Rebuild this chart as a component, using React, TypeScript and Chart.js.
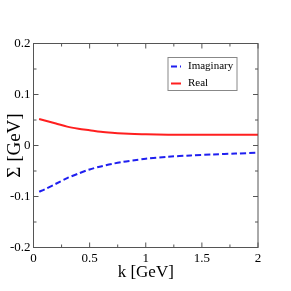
import { useEffect, useRef } from "react";
import { Chart, registerables } from "chart.js";

Chart.register(...registerables);

const kValues = [0.05, 0.1, 0.2, 0.3, 0.4, 0.5, 0.6, 0.7, 0.8, 0.9, 1.0, 1.2, 1.4, 1.6, 1.8, 2.0];
const imagValues = [-0.0905, -0.086, -0.075, -0.064, -0.055, -0.047, -0.041, -0.036, -0.032, -0.029, -0.026, -0.022, -0.0195, -0.0175, -0.0158, -0.014];
const realValues = [0.052, 0.049, 0.043, 0.037, 0.033, 0.03, 0.027, 0.025, 0.0235, 0.0225, 0.022, 0.0213, 0.0212, 0.0212, 0.0213, 0.0213];
const seriesLabels = ["Imaginary", "Real"];
const xTickValues = [0, 0.5, 1, 1.5, 2];
const yTickValues = [-0.2, -0.1, 0, 0.1, 0.2];
const xTitle = "k [GeV]";
const yTitle = "Σ [GeV]";

const SERIF = "'Liberation Serif', 'Times New Roman', serif";

const framePlugin = {
  id: "frame",
  afterDatasetsDraw(chart: any) {
    const { ctx, chartArea, scales } = chart;
    const { left, right, top, bottom } = chartArea;
    ctx.save();
    ctx.strokeStyle = "#555";
    ctx.lineWidth = 1;
    ctx.strokeRect(left, top, right - left, bottom - top);
    const drawX = (v: number, len: number) => {
      const px = scales.x.getPixelForValue(v);
      ctx.beginPath();
      ctx.moveTo(px, bottom);
      ctx.lineTo(px, bottom - len);
      ctx.moveTo(px, top);
      ctx.lineTo(px, top + len);
      ctx.stroke();
    };
    const drawY = (v: number, len: number) => {
      const py = scales.y.getPixelForValue(v);
      ctx.beginPath();
      ctx.moveTo(left, py);
      ctx.lineTo(left + len, py);
      ctx.moveTo(right, py);
      ctx.lineTo(right - len, py);
      ctx.stroke();
    };
    xTickValues.forEach((v, i) => {
      drawX(v, 5);
      if (i < xTickValues.length - 1) drawX((v + xTickValues[i + 1]) / 2, 3);
    });
    yTickValues.forEach((v, i) => {
      drawY(v, 5);
      if (i < yTickValues.length - 1) drawY((v + yTickValues[i + 1]) / 2, 3);
    });
    ctx.restore();
  },
};

const legendPlugin = {
  id: "boxLegend",
  afterDraw(chart: any) {
    const { ctx, chartArea } = chart;
    const bx = chartArea.left + 134.5;
    const by = chartArea.top + 14;
    const bw = 69;
    const bh = 33;
    ctx.save();
    ctx.fillStyle = "#fff";
    ctx.fillRect(bx, by, bw, bh);
    ctx.strokeStyle = "#888";
    ctx.lineWidth = 1;
    ctx.strokeRect(bx, by, bw, bh);
    ctx.font = `11px ${SERIF}`;
    ctx.textBaseline = "middle";
    ctx.textAlign = "left";
    chart.data.datasets.forEach((ds: any, i: number) => {
      const yy = by + 9 + i * 17;
      ctx.beginPath();
      ctx.strokeStyle = ds.borderColor;
      ctx.lineWidth = 2;
      ctx.setLineDash(ds.borderDash || []);
      ctx.moveTo(bx + 3, yy);
      ctx.lineTo(bx + 13, yy);
      ctx.stroke();
      ctx.setLineDash([]);
      ctx.fillStyle = "#000";
      ctx.fillText(ds.label, bx + 20, yy);
    });
    ctx.restore();
  },
};

export default function App() {
  const ref = useRef<HTMLCanvasElement | null>(null);
  useEffect(() => {
    if (!ref.current) return;
    const chart = new Chart(ref.current, {
      type: "line",
      data: {
        datasets: [
          {
            label: seriesLabels[0],
            data: kValues.map((k, i) => ({ x: k, y: imagValues[i] })),
            borderColor: "#1f1ff0",
            borderWidth: 2,
            borderDash: [6, 3],
            pointRadius: 0,
            tension: 0.3,
            fill: false,
          },
          {
            label: seriesLabels[1],
            data: kValues.map((k, i) => ({ x: k, y: realValues[i] })),
            borderColor: "#ff1f1f",
            borderWidth: 2,
            pointRadius: 0,
            tension: 0.3,
            fill: false,
          },
        ],
      },
      options: {
        animation: false,
        responsive: false,
        devicePixelRatio: 1,
        layout: { padding: { top: 43.5, right: 33, left: 0, bottom: 0 } },
        plugins: { legend: { display: false }, tooltip: { enabled: false } },
        scales: {
          x: {
            type: "linear",
            min: 0,
            max: 2,
            afterBuildTicks: (s: any) => {
              s.ticks = xTickValues.map((v) => ({ value: v }));
            },
            afterFit: (s: any) => {
              s.height = 43.5;
            },
            grid: { display: false, drawTicks: false },
            border: { display: false },
            ticks: {
              color: "#000",
              font: { family: SERIF, size: 13 },
              padding: 3,
              maxRotation: 0,
              callback: (v: any) => String(v),
            },
            title: {
              display: true,
              text: xTitle,
              color: "#000",
              font: { family: SERIF, size: 17 },
              padding: { top: 0, bottom: 8 },
            },
          },
          y: {
            type: "linear",
            min: -0.2,
            max: 0.2,
            afterBuildTicks: (s: any) => {
              s.ticks = yTickValues.map((v) => ({ value: v }));
            },
            afterFit: (s: any) => {
              s.width = 33.5;
            },
            grid: { display: false, drawTicks: false },
            border: { display: false },
            ticks: {
              color: "#000",
              font: { family: SERIF, size: 13 },
              padding: 3,
              callback: (v: any) => String(v),
            },
            title: {
              display: true,
              text: yTitle,
              color: "#000",
              font: { family: SERIF, size: 19 },
              padding: { top: 4, bottom: 0 },
            },
          },
        },
      },
      plugins: [framePlugin, legendPlugin],
    });
    return () => chart.destroy();
  }, []);
  return (
    <canvas
      ref={ref}
      width={291}
      height={291}
      style={{ position: "absolute", left: 0, top: 0, width: 291, height: 291 }}
    />
  );
}
